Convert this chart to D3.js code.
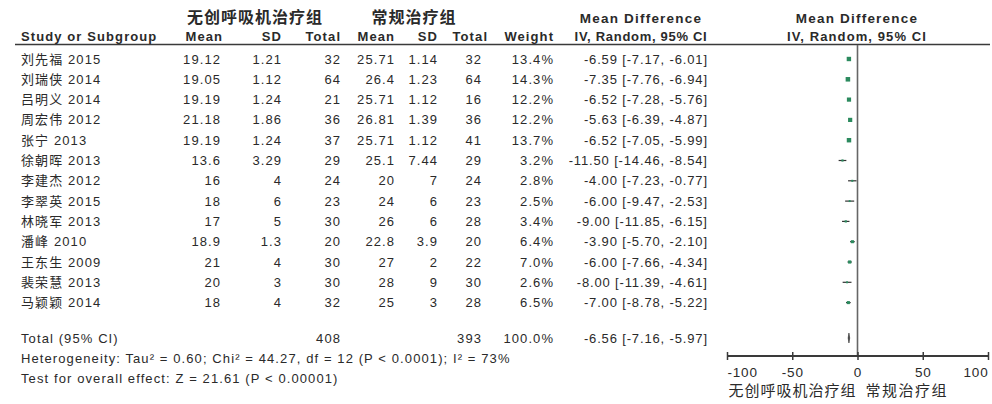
<!DOCTYPE html>
<html>
<head>
<meta charset="utf-8">
<script src="https://cdn.jsdelivr.net/npm/d3@7"></script>
<style>
  html, body { margin: 0; padding: 0; background: #fff; }
  svg { display: block; font-family: "Liberation Sans", Arial, "Noto Sans CJK SC", sans-serif; }
  text { fill: #2a2a2a; }
  .b { font-weight: bold; }
</style>
</head>
<body>
<svg id="chart" width="992" height="404"></svg>
<script>
// Study rows
const studies = ["刘先福 2015", "刘瑞侠 2014", "吕明义 2014", "周宏伟 2012", "张宁 2013", "徐朝晖 2013",
  "李建杰 2012", "李翠英 2015", "林晓军 2013", "潘峰 2010", "王东生 2009", "裴荣慧 2013", "马颖颖 2014"];
// 无创呼吸机治疗组
const expMean = [19.12, 19.05, 19.19, 21.18, 19.19, 13.6, 16, 18, 17, 18.9, 21, 20, 18];
const expSD   = [1.21, 1.12, 1.24, 1.86, 1.24, 3.29, 4, 6, 5, 1.3, 4, 3, 4];
const expN    = [32, 64, 21, 36, 37, 29, 24, 23, 30, 20, 30, 30, 32];
// 常规治疗组
const ctlMean = [25.71, 26.4, 25.71, 26.81, 25.71, 25.1, 20, 24, 26, 22.8, 27, 28, 25];
const ctlSD   = [1.14, 1.23, 1.12, 1.39, 1.12, 7.44, 7, 6, 6, 3.9, 2, 9, 3];
const ctlN    = [32, 64, 16, 36, 41, 29, 24, 23, 28, 20, 22, 30, 28];
// Weights (%) and mean differences with 95% CI
const weights = [13.4, 14.3, 12.2, 12.2, 13.7, 3.2, 2.8, 2.5, 3.4, 6.4, 7.0, 2.6, 6.5];
const md      = [-6.59, -7.35, -6.52, -5.63, -6.52, -11.50, -4.00, -6.00, -9.00, -3.90, -6.00, -8.00, -7.00];
const ciLow   = [-7.17, -7.76, -7.28, -6.39, -7.05, -14.46, -7.23, -9.47, -11.85, -5.70, -7.66, -11.39, -8.78];
const ciHigh  = [-6.01, -6.94, -5.76, -4.87, -5.99, -8.54, -0.77, -2.53, -6.15, -2.10, -4.34, -4.61, -5.22];
// Pooled estimate
const totalExpN = 408, totalCtlN = 393, totalWeight = 100.0;
const pooledMD = -6.56, pooledLow = -7.16, pooledHigh = -5.97;
const heterogeneityText = "Heterogeneity: Tau² = 0.60; Chi² = 44.27, df = 12 (P < 0.0001); I² = 73%";
const overallText = "Test for overall effect: Z = 21.61 (P < 0.00001)";
// Axis
const axisTicks = [-100, -50, 0, 50, 100];
const groupLabels = ["无创呼吸机治疗组", "常规治疗组"];

const svg = d3.select("#chart");
const FS = 13, LS = 1.1;

const rowY = d3.scaleLinear().domain([0, studies.length - 1]).range([59, 302.6]);
const x = d3.scaleLinear().domain([-100, 100]).range([727, 988]);
const base = 4.5; // baseline offset from row centre

function txt(g, xPos, yPos, s, anchor, cls, size, ls) {
  const sp = ls === undefined ? LS : ls;
  const end = anchor === "end";
  return g.append("text").attr("x", end ? xPos + sp : xPos).attr("y", yPos)
    .attr("text-anchor", anchor || "start")
    .attr("class", cls || null)
    .style("font-size", (size || FS) + "px")
    .style("letter-spacing", sp + "px")
    .text(s);
}

const fmtCI = (m, l, h) => `${m.toFixed(2)} [${l.toFixed(2)}, ${h.toFixed(2)}]`;

// Column anchors (right-aligned numbers)
const col = { study: 21, m1: 220, sd1: 281, n1: 340, m2: 394, sd2: 437, n2: 481, w: 553, ci: 707 };

// Headers
const hdr = svg.append("g");
txt(hdr, 255, 23, groupLabels[0], "middle", "b", 16, 1);
txt(hdr, 414, 23, groupLabels[1], "middle", "b", 16, 1);
txt(hdr, 641, 23, "Mean Difference", "middle", "b", 13.5, 1.2);
txt(hdr, 857, 23, "Mean Difference", "middle", "b", 13.5, 1.2);
const hy = 40.5;
txt(hdr, col.study, hy, "Study or Subgroup", "start", "b");
txt(hdr, col.m1 + 2, hy, "Mean", "end", "b");
txt(hdr, col.sd1, hy, "SD", "end", "b");
txt(hdr, col.n1, hy, "Total", "end", "b");
txt(hdr, col.m2, hy, "Mean", "end", "b");
txt(hdr, col.sd2, hy, "SD", "end", "b");
txt(hdr, col.n2 + 6, hy, "Total", "end", "b");
txt(hdr, col.w, hy, "Weight", "end", "b");
txt(hdr, 641, hy, "IV, Random, 95% CI", "middle", "b", 13, 0.7);
txt(hdr, 857, hy, "IV, Random, 95% CI", "middle", "b", 13, 1.1);
svg.append("line").attr("x1", 15).attr("x2", 990).attr("y1", 44.5).attr("y2", 44.5)
  .attr("stroke", "#3a3a3a").attr("stroke-width", 1.5);

// Study rows
const rows = svg.append("g").selectAll("g").data(studies).join("g")
  .attr("transform", (d, i) => `translate(0,${rowY(i) + base})`);
rows.each(function (d, i) {
  const g = d3.select(this);
  txt(g, col.study, 0, d);
  txt(g, col.m1, 0, String(expMean[i]), "end");
  txt(g, col.sd1, 0, String(expSD[i]), "end");
  txt(g, col.n1, 0, String(expN[i]), "end");
  txt(g, col.m2, 0, String(ctlMean[i]), "end");
  txt(g, col.sd2, 0, String(ctlSD[i]), "end");
  txt(g, col.n2, 0, String(ctlN[i]), "end");
  txt(g, col.w, 0, weights[i].toFixed(1) + "%", "end");
  txt(g, col.ci, 0, fmtCI(md[i], ciLow[i], ciHigh[i]), "end", null, 13, 0.85);
});

// Totals and footnotes
const totY = 338;
const tot = svg.append("g");
txt(tot, col.study, totY + base, "Total (95% CI)");
txt(tot, col.n1, totY + base, String(totalExpN), "end");
txt(tot, col.n2, totY + base, String(totalCtlN), "end");
txt(tot, col.w, totY + base, totalWeight.toFixed(1) + "%", "end");
txt(tot, col.ci, totY + base, fmtCI(pooledMD, pooledLow, pooledHigh), "end", null, 13, 0.85);
txt(tot, col.study, 358 + base, heterogeneityText);
txt(tot, col.study, 378 + base, overallText);

// Forest plot: line of no effect
const axisY = 356;
svg.append("line").attr("x1", x(0)).attr("x2", x(0)).attr("y1", 45).attr("y2", axisY)
  .attr("stroke", "#666").attr("stroke-width", 1.6);

// Confidence intervals and weighted squares
const plot = svg.append("g");
plot.selectAll("line.ci").data(studies).join("line").attr("class", "ci")
  .attr("x1", (d, i) => x(ciLow[i])).attr("x2", (d, i) => x(ciHigh[i]))
  .attr("y1", (d, i) => rowY(i)).attr("y2", (d, i) => rowY(i))
  .attr("stroke", "#333").attr("stroke-width", 1.2);
plot.selectAll("rect.sq").data(studies).join("rect").attr("class", "sq")
  .each(function (d, i) {
    const s = Math.sqrt(weights[i]) * 1.2;
    d3.select(this).attr("x", x(md[i]) - s / 2).attr("y", rowY(i) - s / 2)
      .attr("width", s).attr("height", s);
  })
  .attr("fill", "#2b8a5e");

// Pooled diamond
const dh = 5;
plot.append("path")
  .attr("d", `M${x(pooledLow)},${totY} L${x(pooledMD)},${totY - dh} L${x(pooledHigh)},${totY} L${x(pooledMD)},${totY + dh} Z`)
  .attr("fill", "#333").attr("stroke", "#333").attr("stroke-width", 0.6);

// Axis
const axis = d3.axisBottom(x).tickValues(axisTicks).tickSize(4).tickFormat(d3.format("d"));
const ag = svg.append("g").attr("transform", `translate(0,${axisY})`).call(axis);
ag.select(".domain").attr("stroke", "#3a3a3a").attr("stroke-width", 1.8).attr("d", `M${x(-100)},0H${x(100)}`);
ag.selectAll(".tick line").attr("y1", -4).attr("y2", 4).attr("stroke", "#3a3a3a").attr("stroke-width", 1.5);
ag.selectAll(".tick text").attr("y", 20.5).attr("dy", 0)
  .style("font-size", "13.5px").style("letter-spacing", "0.8px").style("font-family", null).attr("fill", "#2a2a2a")
  .attr("text-anchor", (d, i) => i === 0 ? "start" : (i === axisTicks.length - 1 ? "end" : "middle"))
  .text(d => String(d));

// Favours labels
txt(svg, x(0) - 2, 395.5, groupLabels[0], "end", null, 15, 1);
txt(svg, x(0) + 8, 395.5, groupLabels[1], "start", null, 15, 1.5);
</script>
</body>
</html>
